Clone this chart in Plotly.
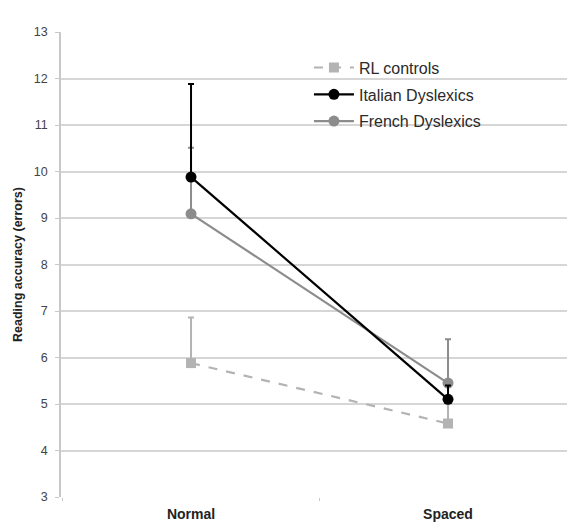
import plotly.graph_objects as go

categories = ["Normal", "Spaced"]
rl_controls = [5.88, 4.58]
rl_err = [0.98, 0.6]
italian = [9.88, 5.10]
italian_err = [2.0, 0.3]
french = [9.09, 5.45]
french_err = [1.42, 0.94]
y_ticks = [3, 4, 5, 6, 7, 8, 9, 10, 11, 12, 13]

FONT = "Liberation Sans, Arial, sans-serif"
fig = go.Figure()

def add(name, y, err, color, symbol, dash, size, group):
    fig.add_trace(go.Scatter(
        x=categories, y=y, name=name, mode="lines+markers",
        line=dict(color=color, width=2.2, dash=dash),
        marker=dict(color=color, symbol=symbol, size=size),
        error_y=dict(type="data", array=err, arrayminus=[0, 0], symmetric=False,
                     color=color, thickness=2, width=3),
        legendgroup=group,
    ))

add("RL controls", rl_controls, rl_err, "#b3b3b3", "square", "dash", 10, "a")
add("French Dyslexics", french, french_err, "#8c8c8c", "circle", "solid", 11, "c")
add("Italian Dyslexics", italian, italian_err, "#000000", "circle", "solid", 11, "b")

for tr, rank in zip(fig.data, [1, 3, 2]):
    tr.legendrank = rank

fig.update_layout(
    width=567, height=522,
    margin=dict(l=61, r=0, t=32, b=25),
    paper_bgcolor="white", plot_bgcolor="white",
    font=dict(family=FONT, color="#333333"),
    showlegend=True,
    legend=dict(x=0.49, y=0.96, xanchor="left", yanchor="top",
                bgcolor="rgba(0,0,0,0)", font=dict(size=16, color="#2a2a2a"),
                tracegroupgap=3, traceorder="grouped", itemwidth=40),
    xaxis=dict(type="category", range=[-0.506, 1.463], showgrid=False,
               showline=False, zeroline=False,
               tickson="boundaries", ticks="outside", ticklen=3,
               tickcolor="#c8c8c8", tickwidth=1,
               tickfont=dict(size=14, color="#222222", family=FONT),
               ticklabelstandoff=7),
    yaxis=dict(range=[3, 13], tickvals=y_ticks, showgrid=True,
               gridcolor="#d6d6d6", gridwidth=1.5, zeroline=False,
               showline=True, linecolor="#c8c8c8", linewidth=1.5,
               ticks="outside", ticklen=4, tickcolor="#c8c8c8",
               ticklabelstandoff=5,
               tickfont=dict(size=12.5, color="#444444"),
               title=dict(text="<b>Reading accuracy (errors)</b>",
                          font=dict(size=12.5, color="#222222"), standoff=8)),
)
fig.update_xaxes(ticktext=["<b>Normal</b>", "<b>Spaced</b>"], tickvals=categories)

fig.write_html("out.html")
